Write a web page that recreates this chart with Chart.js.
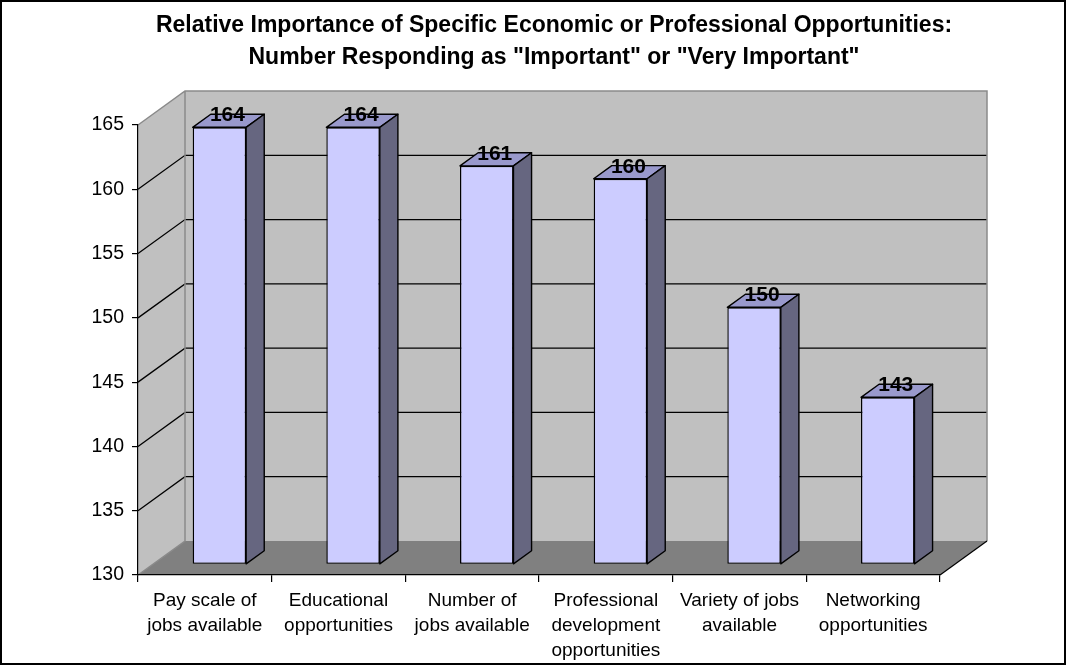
<!DOCTYPE html>
<html>
<head>
<meta charset="utf-8">
<script src="https://cdn.jsdelivr.net/npm/chart.js@4.4.1/dist/chart.umd.min.js"></script>
<style>
  html, body { margin: 0; padding: 0; background: #fff; }
  #wrap { width: 1067px; height: 666px; }
</style>
</head>
<body>
<div id="wrap"><canvas id="myChart" width="1067" height="666"></canvas></div>
<script>
const titleLines = ['Relative Importance of Specific Economic or Professional Opportunities:', 'Number Responding as "Important" or "Very Important"'];
const categories = [
    ['Pay scale of', 'jobs available'],
    ['Educational', 'opportunities'],
    ['Number of', 'jobs available'],
    ['Professional', 'development', 'opportunities'],
    ['Variety of jobs', 'available'],
    ['Networking', 'opportunities']
];
const responses = [164, 164, 161, 160, 150, 143];
const yMin = 130;
const yMax = 165;
const yStep = 5;

// 3d look: depth of the whole floor, where the bars sit in it, and how deep they are
const DEPTH = { x: 47, y: -34 };
const BAR_FRONT = 0.31;
const BAR_DEPTH = 0.385;

const FONT = "'Liberation Sans', Arial, sans-serif";

const walls3d = {
    id: 'walls3d',
    beforeDraw(chart) {
        const ctx = chart.ctx;
        const { left, right, top, bottom } = chart.chartArea;
        const yScale = chart.scales.y;
        const dx = DEPTH.x, dy = DEPTH.y;
        ctx.save();
        // back wall
        ctx.fillStyle = '#c0c0c0';
        ctx.fillRect(left + dx, top + dy, right - left, bottom - top);
        // side wall
        ctx.beginPath();
        ctx.moveTo(left, top);
        ctx.lineTo(left + dx, top + dy);
        ctx.lineTo(left + dx, bottom + dy);
        ctx.lineTo(left, bottom);
        ctx.closePath();
        ctx.fill();
        // floor
        ctx.fillStyle = '#808080';
        ctx.beginPath();
        ctx.moveTo(left, bottom);
        ctx.lineTo(left + dx, bottom + dy);
        ctx.lineTo(right + dx, bottom + dy);
        ctx.lineTo(right, bottom);
        ctx.closePath();
        ctx.fill();

        // gridlines on back wall and side wall
        ctx.strokeStyle = '#000';
        ctx.lineWidth = 1.3;
        yScale.ticks.forEach(t => {
            if (t.value <= yMin || t.value >= yMax) return;
            const py = yScale.getPixelForValue(t.value);
            ctx.beginPath();
            ctx.moveTo(left, py);
            ctx.lineTo(left + dx, py + dy);
            ctx.lineTo(right + dx, py + dy);
            ctx.stroke();
        });

        // wall edges
        ctx.strokeStyle = '#8a8a8a';
        ctx.lineWidth = 1.5;
        ctx.beginPath();
        ctx.moveTo(left, top);
        ctx.lineTo(left + dx, top + dy);
        ctx.lineTo(right + dx, top + dy);
        ctx.lineTo(right + dx, bottom + dy);
        ctx.moveTo(left + dx, top + dy);
        ctx.lineTo(left + dx, bottom + dy);
        ctx.lineTo(left, bottom);
        ctx.stroke();
        ctx.strokeStyle = '#000';
        ctx.lineWidth = 1.2;
        ctx.beginPath();
        ctx.moveTo(right, bottom);
        ctx.lineTo(right + dx, bottom + dy);
        ctx.stroke();
        ctx.restore();
    },
    beforeDatasetsDraw(chart) {
        // shift the front face of the bars into the depth of the floor
        chart.ctx.save();
        chart.ctx.translate(DEPTH.x * BAR_FRONT, DEPTH.y * BAR_FRONT);
    },
    afterDatasetsDraw(chart) {
        const ctx = chart.ctx;
        ctx.restore();
        const fx = DEPTH.x * BAR_FRONT, fy = DEPTH.y * BAR_FRONT;
        const bx = DEPTH.x * BAR_DEPTH, by = DEPTH.y * BAR_DEPTH;
        const meta = chart.getDatasetMeta(0);
        ctx.save();
        ctx.strokeStyle = '#000';
        ctx.lineWidth = 1.4;
        ctx.lineJoin = 'round';
        meta.data.forEach((bar, i) => {
            const p = bar.getProps(['x', 'y', 'base', 'width'], true);
            const l = p.x - p.width / 2 + fx;
            const r = p.x + p.width / 2 + fx;
            const t = p.y + fy;
            const b = p.base + fy;
            // top
            ctx.fillStyle = '#9999cc';
            ctx.beginPath();
            ctx.moveTo(l, t);
            ctx.lineTo(l + bx, t + by);
            ctx.lineTo(r + bx, t + by);
            ctx.lineTo(r, t);
            ctx.closePath();
            ctx.fill();
            ctx.stroke();
            // side
            ctx.fillStyle = '#666680';
            ctx.beginPath();
            ctx.moveTo(r, t);
            ctx.lineTo(r + bx, t + by);
            ctx.lineTo(r + bx, b + by);
            ctx.lineTo(r, b);
            ctx.closePath();
            ctx.fill();
            ctx.stroke();
            // value label
            ctx.fillStyle = '#000';
            ctx.font = 'bold 21px ' + FONT;
            ctx.textAlign = 'center';
            ctx.textBaseline = 'alphabetic';
            ctx.fillText(String(responses[i]), (l + r) / 2 + bx / 2 - 1, t + by / 2 + 0.5);
        });
        ctx.restore();
    },
    afterDraw(chart) {
        const ctx = chart.ctx;
        ctx.save();
        ctx.fillStyle = '#000';
        ctx.font = 'bold 23px ' + FONT;
        ctx.textAlign = 'center';
        ctx.textBaseline = 'alphabetic';
        ctx.fillText(titleLines[0], 554, 32);
        ctx.fillText(titleLines[1], 554, 63.5);
        // chart border
        ctx.strokeStyle = '#000';
        ctx.lineWidth = 2;
        ctx.strokeRect(1, 1, 1064, 663);
        ctx.restore();
    }
};

document.addEventListener('DOMContentLoaded', () => {
    const ctx = document.getElementById('myChart').getContext('2d');

    new Chart(ctx, {
        type: 'bar',
        data: {
            labels: categories,
            datasets: [{
                label: 'Responses',
                data: responses,
                base: yMin,
                backgroundColor: '#ccccff',
                borderColor: '#000',
                borderWidth: 1.4,
                borderSkipped: false,
                barPercentage: 0.4,
                categoryPercentage: 1
            }]
        },
        options: {
            responsive: false,
            animation: false,
            events: [],
            layout: {
                padding: { top: 125, left: 0, right: 127, bottom: 0 }
            },
            plugins: {
                legend: { display: false },
                tooltip: { enabled: false },
                title: { display: false }
            },
            scales: {
                x: {
                    grid: {
                        offset: true,
                        drawOnChartArea: false,
                        drawTicks: true,
                        tickLength: 7,
                        color: '#000',
                        lineWidth: 1.2
                    },
                    border: { display: true, color: '#000', width: 1.2 },
                    ticks: {
                        color: '#000',
                        font: { family: FONT, size: 19, lineHeight: 1.29 },
                        padding: 7,
                        maxRotation: 0,
                        autoSkip: false
                    },
                    afterFit(scale) { scale.height = 91; }
                },
                y: {
                    min: yMin,
                    max: yMax,
                    grid: {
                        drawOnChartArea: false,
                        drawTicks: true,
                        tickLength: 6,
                        color: '#000',
                        lineWidth: 1.2
                    },
                    border: { display: true, color: '#000', width: 1.2 },
                    ticks: {
                        stepSize: yStep,
                        color: '#000',
                        font: { family: FONT, size: 19.5 },
                        padding: 8
                    },
                    afterFit(scale) { scale.width = 138; }
                }
            }
        },
        plugins: [walls3d]
    });
});
</script>
</body>
</html>
